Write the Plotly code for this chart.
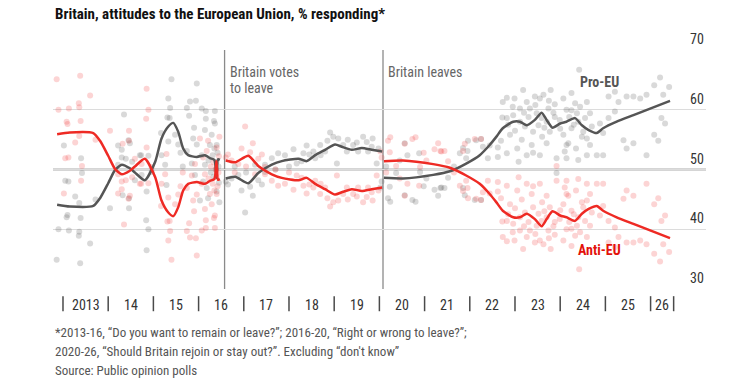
import plotly.graph_objects as go

# ---------------- data ----------------
# Polls 2013-16 ("remain or leave?")
polls_a_year = [2012.86, 2012.90, 2013.02, 2013.05, 2013.08, 2013.10, 2013.12, 2013.13, 2013.27, 2013.36,
                2013.40, 2013.42, 2013.39, 2013.36, 2013.35, 2013.38, 2013.60, 2013.72, 2014.04, 2014.35,
                2014.22, 2014.30, 2014.45, 2014.48, 2014.30, 2014.39, 2014.53, 2014.22, 2014.32, 2014.46,
                2014.46, 2014.59, 2014.70]
polls_a_pro = [34.9, 40.0, 54.0, 48.1, 42.0, 42.4, 48.0, 39.8, 45.5, 44.4,
               51.9, 49.4, 41.9, 39.6, 38.9, 34.3, 37.6, 45.0, 43.5, 59.2,
               54.0, 53.3, 54.9, 54.4, 52.0, 51.8, 51.3, 50.8, 45.7, 45.2,
               43.5, 48.2, 52.4]
polls_a_anti = [65.1, 60.0, 46.0, 51.9, 58.0, 57.6, 52.0, 60.2, 54.5, 55.6,
                48.1, 50.6, 58.1, 60.4, 61.1, 65.7, 62.4, 55.0, 56.5, 40.8,
                46.0, 46.7, 45.1, 45.6, 48.0, 48.2, 48.7, 49.2, 54.3, 54.8,
                56.5, 51.8, 47.6]

polls_b_year = [2015.40, 2015.33, 2015.96, 2015.37, 2015.74, 2016.07, 2015.94, 2015.79, 2015.31, 2015.36,
                2016.16, 2016.36, 2015.17, 2015.48, 2015.33, 2015.55, 2016.14, 2016.29, 2015.88, 2015.96,
                2016.25, 2016.40, 2014.73, 2014.89, 2015.18, 2015.74, 2016.07, 2016.31, 2015.26, 2015.85,
                2016.14, 2016.40, 2014.74, 2014.96, 2015.92, 2016.33, 2014.85, 2015.29, 2016.18, 2016.40,
                2014.84, 2014.89, 2014.85, 2016.21,
                2016.44, 2016.42, 2016.45, 2016.38, 2016.27, 2016.22, 2016.35, 2016.46, 2016.10, 2016.03,
                2015.60, 2015.65, 2015.90, 2016.16, 2016.36, 2015.81, 2016.34]
polls_b_pro = [65.1, 61.9, 64.4, 60.3, 60.3, 60.2, 61.5, 59.0, 58.7, 58.6,
               58.5, 57.7, 56.1, 55.8, 54.7, 54.2, 56.6, 55.8, 55.2, 54.2,
               54.1, 54.1, 52.4, 52.3, 52.4, 53.1, 52.4, 52.4, 50.8, 51.0,
               50.8, 51.3, 49.1, 49.6, 49.1, 48.8, 46.3, 47.4, 46.9, 46.3,
               41.5, 40.0, 36.5, 45.2,
               50.5, 52.8, 47.8, 50.0, 49.5, 51.5, 53.5, 44.5, 48.0, 44.8,
               52.8, 50.5, 57.0, 59.8, 59.8, 61.4, 58.1]
polls_b_anti = [34.9, 38.1, 35.6, 39.7, 39.7, 39.8, 38.5, 41.0, 41.3, 41.4,
                41.5, 42.3, 43.9, 44.2, 45.3, 45.8, 43.4, 44.2, 44.8, 45.8,
                45.9, 45.9, 47.6, 47.7, 47.6, 46.9, 47.6, 47.6, 49.2, 49.0,
                49.2, 48.7, 50.9, 50.4, 50.9, 51.2, 53.7, 52.6, 53.1, 53.7,
                58.5, 60.0, 63.5, 54.8,
                49.5, 47.2, 52.2, 50.0, 50.5, 48.5, 46.5, 55.5, 52.0, 55.2,
                47.2, 49.5, 43.0, 40.2, 40.2, 38.6, 41.9]

# Polls 2016-20 ("right or wrong to leave?")
polls_c_year = [2016.60, 2016.73, 2017.03, 2017.20, 2016.88, 2017.14, 2017.32, 2017.47, 2017.76, 2017.91,
                2018.10, 2018.32, 2018.39, 2018.17, 2018.54, 2018.69, 2018.80, 2018.91, 2018.98, 2019.09,
                2019.06, 2019.20, 2019.28, 2019.42, 2019.64, 2019.72, 2019.83, 2019.94, 2020.05, 2017.25,
                2017.62, 2017.47, 2018.58, 2018.70, 2019.53, 2019.75, 2018.28, 2016.65, 2016.95, 2017.40,
                2017.05, 2016.80, 2017.70, 2018.00, 2018.45, 2018.85, 2019.30, 2019.50, 2019.85, 2019.98,
                2020.02]
polls_c_pro = [48.0, 48.5, 42.8, 45.6, 49.1, 47.1, 48.2, 49.6, 52.7, 52.4,
               53.4, 52.7, 54.0, 51.0, 53.0, 54.1, 53.0, 56.2, 55.5, 55.2,
               51.0, 54.1, 53.0, 54.1, 55.5, 54.6, 53.8, 51.0, 48.0, 50.8,
               51.9, 50.8, 51.9, 52.4, 53.0, 53.0, 51.4, 47.5, 46.5, 47.5,
               49.5, 50.5, 50.0, 50.5, 52.5, 54.8, 55.0, 54.5, 55.2, 53.5,
               47.0]
polls_c_anti = [52.0, 51.5, 57.2, 54.4, 50.9, 52.9, 51.8, 50.4, 47.3, 47.6,
                46.6, 47.3, 46.0, 49.0, 47.0, 45.9, 47.0, 43.8, 44.5, 44.8,
                49.0, 45.9, 47.0, 45.9, 44.5, 45.4, 46.2, 49.0, 52.0, 49.2,
                48.1, 49.2, 48.1, 47.6, 47.0, 47.0, 48.6, 52.5, 53.5, 52.5,
                50.5, 49.5, 50.0, 49.5, 47.5, 45.2, 45.0, 45.5, 44.8, 46.5,
                53.0]

# Polls 2020-26 ("rejoin or stay out?")
polls_d_year = [2020.19, 2020.24, 2020.56, 2020.62, 2020.88, 2020.37, 2020.56, 2020.73, 2021.04, 2021.22,
                2021.35, 2021.52, 2021.85, 2021.96, 2022.14, 2022.44, 2022.29, 2021.85, 2021.89, 2022.11,
                2022.25, 2021.78, 2021.92, 2022.62, 2022.73, 2022.72, 2021.44, 2020.23, 2020.90, 2020.80,
                2021.30, 2021.37, 2021.95, 2022.25, 2022.40, 2022.62, 2022.69, 2020.98, 2021.65, 2020.45,
                2020.15]
polls_d_pro = [45.2, 44.6, 54.4, 52.4, 52.7, 49.4, 45.7, 44.9, 48.5, 46.6,
               46.9, 48.6, 53.6, 54.8, 54.9, 54.0, 53.8, 46.9, 45.7, 44.9,
               44.9, 52.7, 51.9, 52.1, 61.3, 58.7, 46.9, 47.1, 49.6, 44.6,
               45.6, 47.0, 53.1, 55.1, 51.9, 53.7, 54.8, 47.2, 50.5, 51.5,
               50.5]
polls_d_anti = [54.8, 55.4, 45.6, 47.6, 47.3, 50.6, 54.3, 55.1, 51.5, 53.4,
                53.1, 51.4, 46.4, 45.2, 45.1, 46.0, 46.2, 53.1, 54.3, 55.1,
                55.1, 47.3, 48.1, 47.9, 38.7, 41.3, 53.1, 52.9, 50.4, 55.4,
                54.4, 53.0, 46.9, 44.9, 48.1, 46.3, 45.2, 52.8, 49.5, 48.5,
                49.5]

polls_e_year = [2024.42, 2023.18, 2023.79, 2023.63, 2023.44, 2022.99, 2022.82, 2023.26, 2023.55, 2024.07,
                2024.25, 2023.88, 2024.33, 2024.44, 2024.59, 2025.07, 2025.47, 2025.62, 2025.77, 2025.91,
                2026.21, 2026.08, 2026.41, 2026.28, 2025.21, 2025.29, 2026.24, 2026.32, 2026.08, 2026.17,
                2025.07, 2025.21, 2024.95, 2024.88, 2025.40, 2025.62, 2024.81, 2024.95, 2025.91, 2025.47,
                2024.66, 2024.59, 2024.40, 2024.14, 2023.92, 2023.92, 2023.55, 2023.26, 2023.08, 2022.82,
                2022.89, 2023.37, 2023.70, 2024.14, 2022.82, 2022.96, 2023.11, 2023.22, 2023.40, 2023.52,
                2023.70, 2023.77, 2023.99, 2024.07, 2024.18, 2024.25, 2024.40, 2024.51, 2023.33, 2023.74,
                2024.14, 2023.11, 2023.48, 2023.88, 2023.59, 2024.37, 2024.55, 2024.66, 2024.70, 2024.59,
                2023.00, 2023.15, 2023.30, 2023.45, 2023.65, 2023.85, 2024.00, 2024.20, 2024.30, 2024.48,
                2023.05, 2023.60, 2024.10, 2024.35, 2023.40, 2022.85, 2022.95, 2023.20, 2023.75, 2024.25]
polls_e_pro = [66.7, 63.3, 63.3, 62.5, 62.2, 61.9, 62.0, 61.3, 61.9, 61.9,
               62.8, 60.9, 61.1, 60.5, 61.3, 62.2, 62.2, 62.2, 61.9, 62.5,
               65.4, 64.1, 63.8, 62.5, 63.0, 61.3, 58.6, 57.7, 55.8, 54.8,
               58.6, 59.7, 56.1, 57.7, 54.9, 54.4, 52.4, 52.4, 52.4, 53.5,
               54.1, 52.4, 51.6, 51.9, 49.4, 51.9, 52.4, 52.4, 51.3, 52.7,
               55.8, 54.1, 54.4, 54.1, 58.6, 59.1, 58.0, 57.2, 56.3, 57.4,
               58.0, 56.3, 58.3, 55.8, 54.4, 56.9, 58.0, 56.3, 60.2, 60.2,
               60.0, 60.2, 59.4, 58.8, 58.6, 59.4, 58.6, 59.4, 57.2, 55.2,
               56.5, 55.0, 58.8, 60.8, 57.0, 59.5, 56.8, 58.8, 57.5, 55.5,
               53.5, 55.5, 53.0, 53.5, 52.8, 57.5, 60.5, 59.5, 61.5, 59.9]
polls_e_anti = [33.3, 36.7, 36.7, 37.5, 37.8, 38.1, 38.0, 38.7, 38.1, 38.1,
                37.2, 39.1, 38.9, 39.5, 38.7, 37.8, 37.8, 37.8, 38.1, 37.5,
                34.6, 35.9, 36.2, 37.5, 37.0, 38.7, 41.4, 42.3, 44.2, 45.2,
                41.4, 40.3, 43.9, 42.3, 45.1, 45.6, 47.6, 47.6, 47.6, 46.5,
                45.9, 47.6, 48.4, 48.1, 50.6, 48.1, 47.6, 47.6, 48.7, 47.3,
                44.2, 45.9, 45.6, 45.9, 41.4, 40.9, 42.0, 42.8, 43.7, 42.6,
                42.0, 43.7, 41.7, 44.2, 45.6, 43.1, 42.0, 43.7, 39.8, 39.8,
                40.0, 39.8, 40.6, 41.2, 41.4, 40.6, 41.4, 40.6, 42.8, 44.8,
                43.5, 45.0, 41.2, 39.2, 43.0, 40.5, 43.2, 41.2, 42.5, 44.5,
                46.5, 44.5, 47.0, 46.5, 47.2, 42.5, 39.5, 40.5, 38.5, 40.1]

# Smoothed trends, one per question period
trend1_year = [2012.87, 2013.15, 2013.67, 2013.82, 2014.00, 2014.15, 2014.30, 2014.48, 2014.59, 2014.81,
               2015.04, 2015.18, 2015.33, 2015.44, 2015.55, 2015.66, 2015.77, 2015.96, 2016.14, 2016.25,
               2016.35, 2016.395, 2016.43, 2016.47]
trend1_pro = [44.1, 43.8, 43.9, 45.2, 47.7, 49.9, 50.8, 50.2, 49.5, 48.2,
              51.3, 55.2, 57.2, 57.8, 56.3, 53.5, 52.4, 52.1, 52.4, 51.9,
              51.6, 48.6, 51.7, 51.6]
trend1_anti = [55.9, 56.2, 56.1, 54.8, 52.3, 50.1, 49.2, 49.8, 50.5, 51.8,
               48.7, 44.8, 42.8, 42.2, 43.7, 46.5, 47.6, 47.9, 47.6, 48.1,
               48.4, 51.4, 48.3, 48.4]

trend2_year = [2016.60, 2016.81, 2017.10, 2017.32, 2017.62, 2017.84, 2018.21, 2018.39, 2018.58, 2018.80,
               2019.02, 2019.17, 2019.39, 2019.61, 2019.83, 2020.06]
trend2_pro = [48.5, 48.8, 47.7, 49.4, 50.8, 51.4, 51.8, 51.4, 52.4, 53.3,
              54.2, 53.8, 53.3, 53.6, 53.3, 53.0]
trend2_anti = [51.5, 51.2, 52.3, 50.6, 49.2, 48.6, 48.2, 48.6, 47.6, 46.7,
               45.8, 46.2, 46.7, 46.4, 46.7, 47.0]

trend3_year = [2020.10, 2020.52, 2021.19, 2021.56, 2021.92, 2022.22, 2022.44, 2022.59, 2022.73, 2022.96,
               2023.11, 2023.26, 2023.44, 2023.59, 2023.70, 2023.83, 2024.00, 2024.14, 2024.33, 2024.48,
               2024.63, 2024.81, 2024.95, 2025.25, 2025.62, 2025.99, 2026.43]
trend3_pro = [48.6, 48.5, 49.1, 49.7, 51.0, 52.4, 54.1, 55.5, 56.9, 58.0,
              58.0, 57.4, 58.3, 59.5, 58.3, 57.0, 57.7, 58.0, 58.6, 57.4,
              56.6, 56.1, 56.9, 58.0, 59.1, 60.2, 61.5]
trend3_anti = [51.4, 51.5, 50.9, 50.3, 49.0, 47.6, 45.9, 44.5, 43.1, 42.0,
               42.0, 42.6, 41.7, 40.5, 41.7, 43.0, 42.3, 42.0, 41.4, 42.6,
               43.4, 43.9, 43.1, 42.0, 40.9, 39.8, 38.5]

year_ticks = list(range(2013, 2027)) + [2026.51]
year_labels = ["2013", "14", "15", "16", "17", "18", "19", "20", "21", "22", "23", "24", "25", "26"]
y_ticks = [30, 40, 50, 60, 70]
events = [(2016.575, ["Britain votes", "to leave"]), (2020.08, ["Britain leaves"])]

# ---------------- style ----------------
FONT = "Liberation Sans Narrow, Roboto Condensed, Roboto, sans-serif"
RED = "#ee2a24"
GREY = "#555555"
RED_DOT = "rgba(240,60,60,0.22)"
GREY_DOT = "rgba(80,80,80,0.22)"

poll_year = polls_a_year + polls_b_year + polls_c_year + polls_d_year + polls_e_year
poll_pro = polls_a_pro + polls_b_pro + polls_c_pro + polls_d_pro + polls_e_pro
poll_anti = polls_a_anti + polls_b_anti + polls_c_anti + polls_d_anti + polls_e_anti

fig = go.Figure()
fig.add_trace(go.Scatter(x=poll_year, y=poll_pro, mode="markers",
                         marker=dict(size=6, color=GREY_DOT, line=dict(width=0)),
                         hoverinfo="skip", showlegend=False))
fig.add_trace(go.Scatter(x=poll_year, y=poll_anti, mode="markers",
                         marker=dict(size=6, color=RED_DOT, line=dict(width=0)),
                         hoverinfo="skip", showlegend=False))
for ty, tp, ta in [(trend1_year, trend1_pro, trend1_anti),
                   (trend2_year, trend2_pro, trend2_anti),
                   (trend3_year, trend3_pro, trend3_anti)]:
    fig.add_trace(go.Scatter(x=ty, y=tp, mode="lines",
                             line=dict(color=GREY, width=2.5, shape="spline", smoothing=0.6),
                             hoverinfo="skip", showlegend=False))
    fig.add_trace(go.Scatter(x=ty, y=ta, mode="lines",
                             line=dict(color=RED, width=2.5, shape="spline", smoothing=0.6),
                             hoverinfo="skip", showlegend=False))

shapes = []
# 50% reference line
shapes.append(dict(type="line", xref="paper", x0=0, x1=1, yref="y", y0=50, y1=50,
                   line=dict(color="#5a5a5a", width=1.3), layer="below"))
for ex, _ in events:
    shapes.append(dict(type="line", xref="x", x0=ex, x1=ex, yref="paper", y0=0, y1=1,
                       line=dict(color="#8a8a8a", width=1.3), layer="below"))
for t in year_ticks:
    shapes.append(dict(type="line", xref="x", x0=t, x1=t, yref="paper", y0=-0.030, y1=-0.093,
                       line=dict(color="#4a4a4a", width=1.5)))

ann = []
ann.append(dict(text="<b>Britain, attitudes to the European Union, % responding*</b>",
                xref="paper", x=0, xanchor="left", yref="paper", y=1.151, yanchor="middle",
                showarrow=False, font=dict(family=FONT, size=15, color="#111111")))
for v in y_ticks:
    ann.append(dict(text=str(v), xref="paper", x=1, xanchor="right", yref="y", y=v,
                    yanchor="bottom", yshift=1, showarrow=False,
                    font=dict(family=FONT, size=14, color="#333333")))
for i, lab in enumerate(year_labels):
    xc = (year_ticks[i] + year_ticks[i + 1]) / 2
    ann.append(dict(text=lab, xref="x", x=xc, xanchor="center", yref="paper", y=-0.067,
                    yanchor="middle", showarrow=False,
                    font=dict(family=FONT, size=14, color="#333333")))
for ex, lines in events:
    for j, line in enumerate(lines):
        ann.append(dict(text=line, xref="x", x=ex, xanchor="left", xshift=3, yref="y",
                        y=66.3 - 2.7 * j, yanchor="middle", showarrow=False,
                        font=dict(family=FONT, size=14, color="#666666")))
ann.append(dict(text="<b>Pro-EU</b>", xref="x", x=2024.88, yref="y", y=64.7, showarrow=False,
                xanchor="center", yanchor="middle", font=dict(family=FONT, size=14, color="#555555")))
ann.append(dict(text="<b>Anti-EU</b>", xref="x", x=2024.88, yref="y", y=36.5, showarrow=False,
                xanchor="center", yanchor="middle", font=dict(family=FONT, size=14, color="#e3120b")))
notes = ["*2013-16, \u201cDo you want to remain or leave?\u201d; 2016-20, \u201cRight or wrong to leave?\u201d;",
         "2020-26, \u201cShould Britain rejoin or stay out?\u201d. Excluding \u201cdon't know\u201d",
         "Source: Public opinion polls"]
for k, n in enumerate(notes):
    ann.append(dict(text=n, xref="paper", x=0, xanchor="left", yref="paper",
                    y=-0.184 - 0.0795 * k, yanchor="middle", showarrow=False,
                    font=dict(family=FONT, size=13, color="#555555")))

fig.update_layout(
    width=750, height=387,
    margin=dict(l=53, r=44, t=50, b=98),
    paper_bgcolor="white", plot_bgcolor="white",
    xaxis=dict(range=[2012.779, 2027.226], showgrid=False, zeroline=False,
               showticklabels=False, ticks="", showline=False, fixedrange=True),
    yaxis=dict(range=[30, 70], tickvals=y_ticks, showgrid=True, gridcolor="#dcdcdc",
               gridwidth=1, zeroline=False, showticklabels=False, ticks="", showline=False,
               fixedrange=True),
    shapes=shapes, annotations=ann,
    font=dict(family=FONT),
)

fig.write_html("out.html")
